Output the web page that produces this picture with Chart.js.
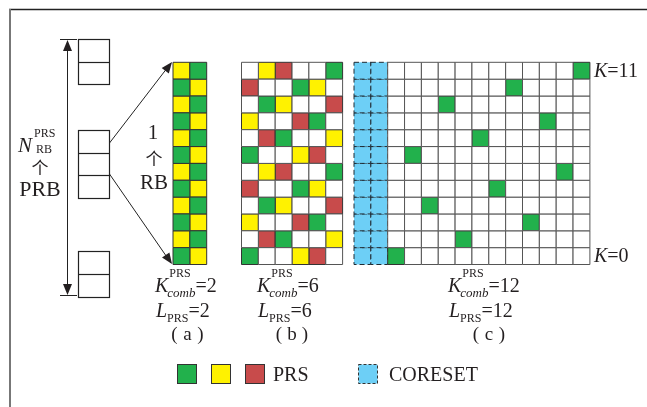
<!DOCTYPE html>
<html>
<head>
<meta charset="utf-8">
<script src="https://cdn.jsdelivr.net/npm/chart.js@4/dist/chart.umd.min.js"></script>
<style>
  body { margin: 0; background: #fff; }
  canvas { display: block; }
</style>
</head>
<body>
<canvas id="prsChart" width="647" height="407"></canvas>
<script>
// rows listed from K=0 (bottom) up to K=11 (top)
// G = green, Y = yellow, R = red, W = empty RE
const patternA = ['GY', 'YG', 'GY', 'YG', 'GY', 'YG', 'GY', 'YG', 'GY', 'YG', 'GY', 'YG'];
const patternB = ['GWWYRW', 'WRGWWY', 'YWWRGW', 'WGYWWR', 'RWWGYW', 'WYRWWG',
                  'GWWYRW', 'WRGWWY', 'YWWRGW', 'WGYWWR', 'RWWGYW', 'WYRWWG'];
// panel (c): column of the PRS RE for each K (after the 2 CORESET symbols)
const prsColC = [0, 4, 8, 2, 6, 10, 1, 5, 9, 3, 7, 11];
const coresetCols = 2;
const symbolsC = 12;
const combSizes = [2, 6, 12];
const panelNames = ['a', 'b', 'c'];

const colors = { G: '#22b14c', Y: '#fff200', R: '#c84b4b', W: '#ffffff', B: '#6dcff6' };
const ink = '#231f20';

const CELL = 16.85;
const GRID_LEFT = 173;
const GRID_BOTTOM = 264.5;
const W = 647, H = 407;
const PANEL_B = (241.5 - GRID_LEFT) / CELL;
const PANEL_C = (354 - GRID_LEFT) / CELL;

let pts = { W: [], G: [], Y: [], R: [], B: [] };
patternA.forEach((row, k) => {
    row.split('').forEach((c, i) => pts[c].push({ x: i + 0.5, y: k + 0.5 }));
});
patternB.forEach((row, k) => {
    row.split('').forEach((c, i) => pts[c].push({ x: PANEL_B + i + 0.5, y: k + 0.5 }));
});
prsColC.forEach((col, k) => {
    for (let i = 0; i < coresetCols; i++) pts.B.push({ x: PANEL_C + i + 0.5, y: k + 0.5 });
    for (let i = 0; i < symbolsC; i++) {
        let c = i === col ? 'G' : 'W';
        pts[c].push({ x: PANEL_C + coresetCols + i + 0.5, y: k + 0.5 });
    }
});

function cellSet(code) {
    return {
        label: code,
        data: pts[code],
        pointStyle: 'rect',
        pointRadius: CELL / Math.SQRT2,
        pointHoverRadius: CELL / Math.SQRT2,
        backgroundColor: colors[code],
        borderColor: code === 'W' ? '#555' : code === 'B' ? '#1f2a33' : '#333',
        borderWidth: 1
    };
}

const serif = '"Liberation Serif", "Times New Roman", serif';
const cjk = '"Noto Sans CJK SC", sans-serif';

function text(ctx, s, x, y, size, opt) {
    opt = opt || {};
    ctx.font = (opt.italic ? 'italic ' : '') + size + 'px ' + (opt.font || serif);
    ctx.textAlign = opt.align || 'left';
    ctx.textBaseline = 'alphabetic';
    ctx.fillStyle = ink;
    ctx.fillText(s, x, y);
    return ctx.measureText(s).width;
}

function arrowHead(ctx, x0, y0, x1, y1) {
    let a = Math.atan2(y1 - y0, x1 - x0), len = 11, hw = 4.5;
    ctx.beginPath();
    ctx.moveTo(x1, y1);
    ctx.lineTo(x1 - len * Math.cos(a) + hw * Math.sin(a), y1 - len * Math.sin(a) - hw * Math.cos(a));
    ctx.lineTo(x1 - len * Math.cos(a) - hw * Math.sin(a), y1 - len * Math.sin(a) + hw * Math.cos(a));
    ctx.closePath();
    ctx.fill();
}

function kLabel(ctx, x, val) {
    let wk = text(ctx, 'K', x, 292, 20, { italic: true });
    let ws = text(ctx, 'PRS', x + wk + 1, 277, 12);
    let wc = text(ctx, 'comb', x + wk - 1, 297, 13, { italic: true });
    text(ctx, '=' + val, x + wk - 1 + Math.max(ws + 2, wc), 292, 20);
    let wl = text(ctx, 'L', x + 1, 317, 20, { italic: true });
    let wp = text(ctx, 'PRS', x + 1 + wl, 322, 12);
    text(ctx, '=' + val, x + 1 + wl + wp, 317, 20);
}

const coresetDash = {
    id: 'coresetDash',
    beforeDatasetDraw(chart, args) {
        if (chart.data.datasets[args.index].label === 'B') {
            chart.ctx.save();
            chart.ctx.setLineDash([5, 3]);
        }
    },
    afterDatasetDraw(chart, args) {
        if (chart.data.datasets[args.index].label === 'B') chart.ctx.restore();
    }
};

const annotations = {
    id: 'annotations',
    afterDraw(chart) {
        const ctx = chart.ctx;
        ctx.save();
        // frame
        ctx.strokeStyle = '#222';
        ctx.lineWidth = 1.5;
        ctx.beginPath(); ctx.moveTo(9, 9.5); ctx.lineTo(W, 9.5); ctx.stroke();
        ctx.strokeStyle = '#777';
        ctx.lineWidth = 2;
        ctx.beginPath(); ctx.moveTo(10, 9); ctx.lineTo(10, H); ctx.stroke();

        // PRB column
        ctx.strokeStyle = '#222';
        ctx.lineWidth = 1.2;
        [[39, 62, 84], [130, 153, 175, 198], [251, 274, 297]].forEach(ys => {
            ctx.strokeRect(78.5, ys[0] + 0.5, 31, ys[ys.length - 1] - ys[0]);
            for (let i = 1; i < ys.length - 1; i++) {
                ctx.beginPath(); ctx.moveTo(78.5, ys[i] + 0.5); ctx.lineTo(109.5, ys[i] + 0.5); ctx.stroke();
            }
        });

        // vertical double arrow
        ctx.fillStyle = ink;
        ctx.lineWidth = 1;
        ctx.beginPath();
        ctx.moveTo(67.5, 45); ctx.lineTo(67.5, 290);
        ctx.moveTo(60, 39.5); ctx.lineTo(77, 39.5);
        ctx.moveTo(60, 295.5); ctx.lineTo(77, 295.5);
        ctx.stroke();
        arrowHead(ctx, 67.5, 100, 67.5, 40);
        arrowHead(ctx, 67.5, 200, 67.5, 295);

        // zoom lines to panel (a)
        ctx.beginPath();
        ctx.moveTo(109.5, 143); ctx.lineTo(171, 63);
        ctx.moveTo(109.5, 174); ctx.lineTo(171, 263);
        ctx.stroke();
        arrowHead(ctx, 109.5, 143, 172, 62);
        arrowHead(ctx, 109.5, 174, 172, 264);

        // left labels
        text(ctx, 'N', 18, 152, 21, { italic: true });
        text(ctx, 'PRS', 34, 137, 12);
        text(ctx, 'RB', 36, 153, 12);
        text(ctx, '个', 40, 174, 17, { align: 'center', font: cjk });
        text(ctx, 'PRB', 40, 196, 22, { align: 'center' });

        text(ctx, '1', 153, 139, 21, { align: 'center' });
        text(ctx, '个', 154, 165, 17, { align: 'center', font: cjk });
        text(ctx, 'RB', 154, 189, 21, { align: 'center' });

        // panel parameters
        const kx = [155, 257, 448];
        const px = [187.5, 292, 489];
        combSizes.forEach((v, i) => {
            kLabel(ctx, kx[i], v);
            text(ctx, '(', px[i] - 13, 340, 19, { align: 'center' });
            text(ctx, panelNames[i], px[i], 340, 19, { align: 'center' });
            text(ctx, ')', px[i] + 13, 340, 19, { align: 'center' });
        });

        // K markers
        let w = text(ctx, 'K', 594, 77, 20, { italic: true });
        text(ctx, '=11', 594 + w, 77, 20);
        w = text(ctx, 'K', 594, 262, 20, { italic: true });
        text(ctx, '=0', 594 + w, 262, 20);

        // legend
        ctx.strokeStyle = '#333';
        ctx.lineWidth = 1;
        [['G', 177], ['Y', 211], ['R', 245]].forEach(([c, x]) => {
            ctx.fillStyle = colors[c];
            ctx.fillRect(x + 0.5, 364.5, 19, 19);
            ctx.strokeRect(x + 0.5, 364.5, 19, 19);
        });
        text(ctx, 'PRS', 273, 381, 20);
        ctx.fillStyle = colors.B;
        ctx.fillRect(358.5, 364.5, 19, 19);
        ctx.setLineDash([3, 2]);
        ctx.strokeRect(358.5, 364.5, 19, 19);
        ctx.setLineDash([]);
        text(ctx, 'CORESET', 389, 381, 20);
        ctx.restore();
    }
};

new Chart(document.getElementById('prsChart'), {
    type: 'scatter',
    data: {
        datasets: [cellSet('W'), cellSet('G'), cellSet('Y'), cellSet('R'), cellSet('B')]
    },
    options: {
        responsive: false,
        animation: false,
        events: [],
        layout: { padding: 0, autoPadding: false },
        scales: {
            x: { display: false, min: -GRID_LEFT / CELL, max: (W - GRID_LEFT) / CELL },
            y: { display: false, min: -(H - GRID_BOTTOM) / CELL, max: GRID_BOTTOM / CELL }
        },
        plugins: { legend: { display: false }, tooltip: { enabled: false } }
    },
    plugins: [coresetDash, annotations]
});
</script>
</body>
</html>
